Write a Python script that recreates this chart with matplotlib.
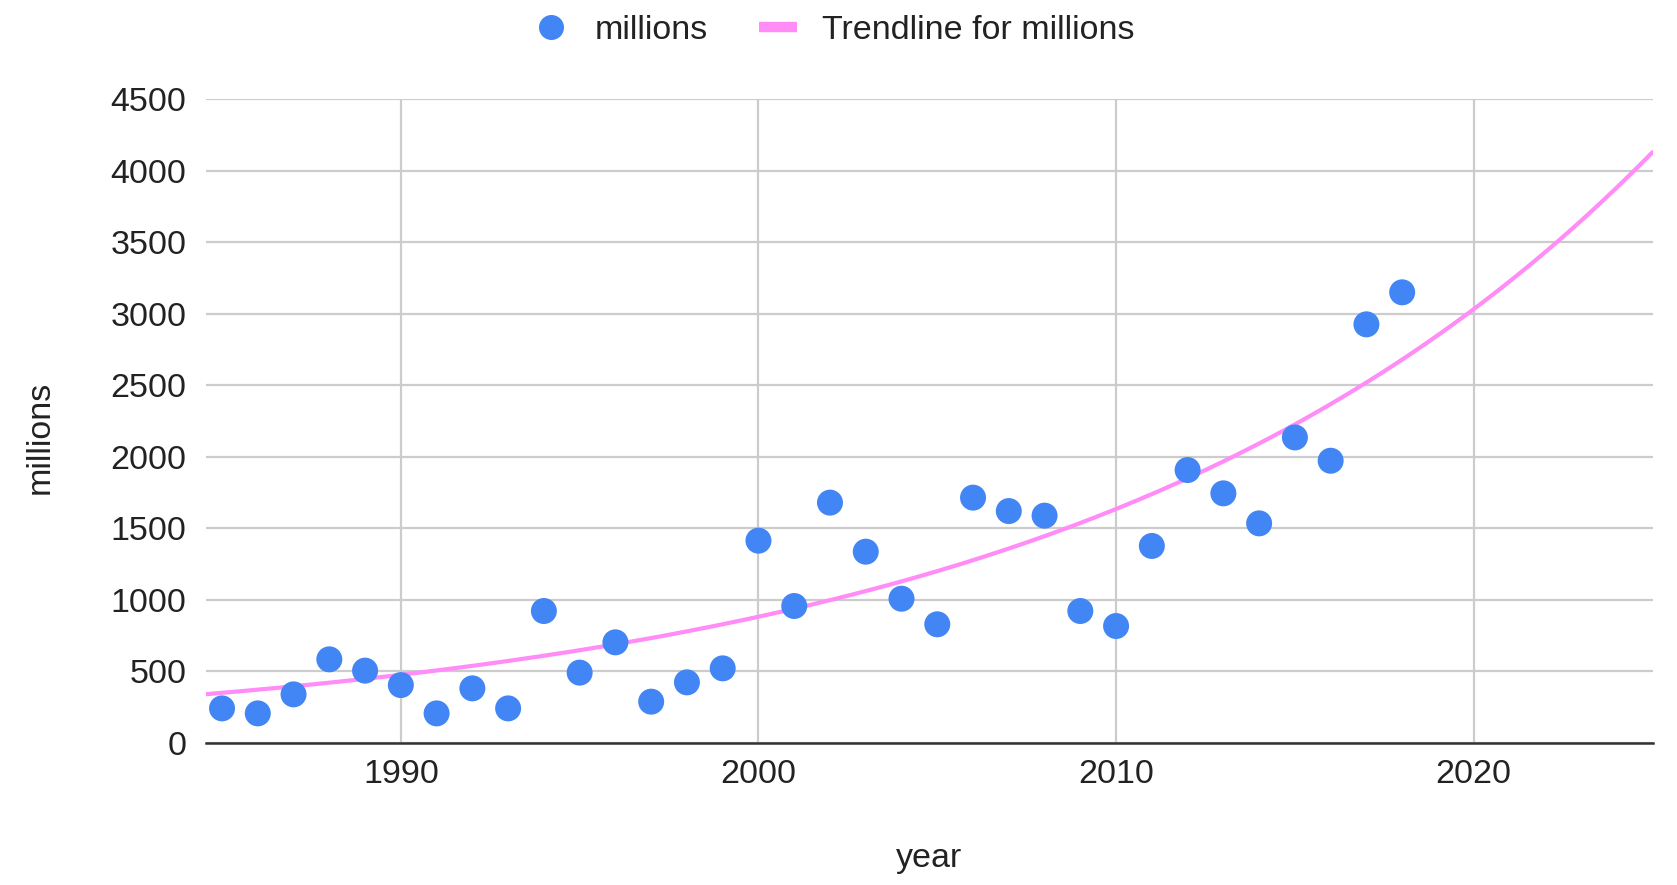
import numpy as np
import matplotlib.pyplot as plt
from matplotlib.lines import Line2D

plt.rcParams['font.family'] = ['Liberation Sans', 'DejaVu Sans']

years = np.arange(1985, 2019)
millions = [240, 205, 338, 583, 504, 403, 205, 380, 240, 921,
            490, 702, 287, 422, 520, 1413, 956, 1679, 1336, 1007,
            828, 1714, 1620, 1588, 921, 816, 1376, 1907, 1744, 1534,
            2135, 1972, 2926, 3150]

# exponential trendline y = base * exp(rate * (year - 2000))
trend_base = 881
trend_rate = 0.0618
trend_span = (1984.55, 2025)

x_ticks = [1990, 2000, 2010, 2020]
y_ticks = np.arange(0, 4501, 500)

blue = '#4285f4'
pink = '#ff8cf7'
grid_col = '#cccccc'

fig = plt.figure(figsize=(16.77, 8.85), dpi=100)
ax = fig.add_axes([0.1228, 0.1608, 0.8626, 0.727])

tx = np.linspace(trend_span[0], trend_span[1], 200)
ax.plot(tx, trend_base * np.exp(trend_rate * (tx - 2000)), color=pink, lw=3,
        zorder=2, solid_capstyle='round')

ax.scatter(years, millions, s=350, color=blue, edgecolors='none', zorder=3)

ax.set_xlim(*trend_span)
ax.set_ylim(0, 4500)
ax.set_xticks(x_ticks)
ax.set_yticks(y_ticks)
ax.grid(True, color=grid_col, lw=1.6, zorder=0)
ax.set_axisbelow(True)
ax.tick_params(length=0, labelsize=24.5, colors='#222222')
ax.tick_params(axis='y', pad=14)
ax.tick_params(axis='x', pad=12)
for side in ['top', 'right', 'left']:
    ax.spines[side].set_visible(False)
ax.spines['bottom'].set_color('#333333')
ax.spines['bottom'].set_linewidth(1.8)
ax.spines['bottom'].set_zorder(4)

ax.set_ylabel('millions', fontsize=24.5, color='#222222', va='center')
ax.yaxis.set_label_coords(-0.1148, 0.475)
ax.set_xlabel('year', fontsize=24.5, color='#222222', va='center')
ax.xaxis.set_label_coords(0.5, -0.18)

handles = [
    Line2D([], [], ls='none', marker='o', ms=18, color=blue, markeredgewidth=0),
    Line2D([], [], color=pink, lw=7.5, solid_capstyle='butt'),
]
fig.legend(handles, ['millions', 'Trendline for millions'], loc='center',
           bbox_to_anchor=(0.497, 0.966), ncol=2, frameon=False, fontsize=24.5,
           handlelength=1.1, handletextpad=0.75, columnspacing=1.5,
           labelcolor='#222222')

fig.savefig('out.png', dpi=100)
